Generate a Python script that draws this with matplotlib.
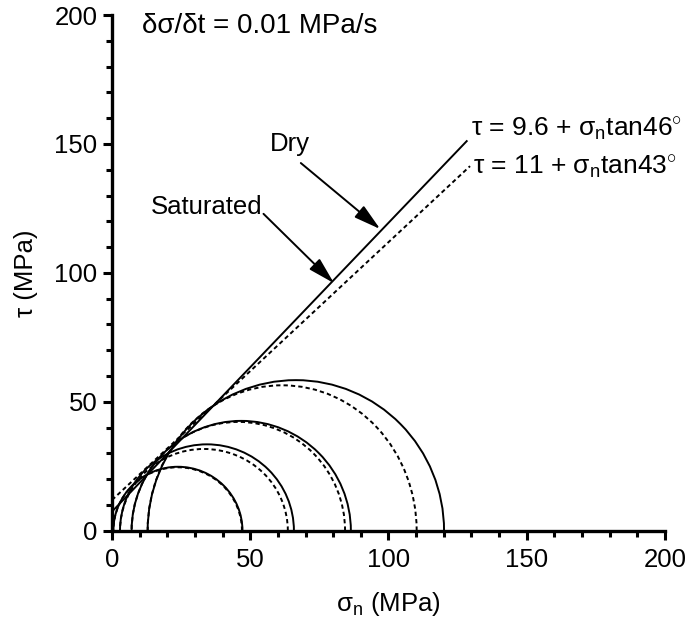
import matplotlib
matplotlib.use("Agg")
import matplotlib.pyplot as plt
from matplotlib.patches import Arc
from matplotlib.ticker import MultipleLocator

plt.rcParams['font.family'] = ['Liberation Sans', 'DejaVu Sans']
plt.rcParams['mathtext.fontset'] = 'custom'
plt.rcParams['mathtext.rm'] = 'Liberation Sans'
plt.rcParams['mathtext.it'] = 'Liberation Sans'

# Mohr circles: sigma3, sigma1 and the height of the arc top
sigma3_dry = [0.5, 2.9, 7.1, 12.9]
sigma1_dry = [47.2, 65.8, 86.4, 120.1]
peak_dry = [24.8, 33.5, 42.6, 58.4]

sigma3_sat = [0.5, 2.9, 7.1, 12.9]
sigma1_sat = [47.0, 63.6, 84.3, 110.2]
peak_sat = [24.6, 31.7, 42.2, 56.4]

# failure envelopes (end points as drawn)
env_sigma = [0, 128.3]
env_dry = [7.4, 151.1]
env_sat_sigma = [0, 129.5]
env_sat = [11.9, 141.4]

fig = plt.figure(figsize=(6.9, 6.24), dpi=100)
ax = fig.add_axes([0.1623, 0.1495, 0.8014, 0.8264])

lw = 1.4
for s3, s1, pk in zip(sigma3_dry, sigma1_dry, peak_dry):
    ax.add_patch(Arc(((s1 + s3) / 2, 0), s1 - s3, 2 * pk, theta1=0, theta2=180,
                     color='black', lw=lw))
for s3, s1, pk in zip(sigma3_sat, sigma1_sat, peak_sat):
    ax.add_patch(Arc(((s1 + s3) / 2, 0), s1 - s3, 2 * pk, theta1=0, theta2=180,
                     color='black', lw=lw, linestyle=(0, (2.2, 1.6))))

ax.plot(env_sigma, env_dry, color='black', lw=lw)
ax.plot(env_sat_sigma, env_sat, color='black', lw=lw, linestyle=(0, (2.2, 1.6)))

ax.set_xlim(0, 200)
ax.set_ylim(0, 200)
ax.spines['top'].set_visible(False)
ax.spines['right'].set_visible(False)
ax.spines['left'].set_linewidth(2.4)
ax.spines['bottom'].set_linewidth(2.4)
ax.xaxis.set_major_locator(MultipleLocator(50))
ax.yaxis.set_major_locator(MultipleLocator(50))
ax.xaxis.set_minor_locator(MultipleLocator(10))
ax.yaxis.set_minor_locator(MultipleLocator(10))
ax.tick_params(which='major', length=6.5, width=2.2, labelsize=18.5, pad=4)
ax.tick_params(axis='x', which='major', pad=6)
ax.tick_params(which='minor', length=4.5, width=2.2)

ax.set_xlabel('σ$_{\\mathregular{n}}$ (MPa)', fontsize=18.5, labelpad=13)
ax.set_ylabel('τ (MPa)', fontsize=18.5, labelpad=12)

ax.text(10.7, 195.6, 'δσ/δt = 0.01 MPa/s', fontsize=20, va='center', ha='left')
ax.text(130, 155.8, 'τ = 9.6 + σ$_{\\mathregular{n}}$tan46$^{\\circ}$', fontsize=19,
        va='center', ha='left')
ax.text(130.7, 140.8, 'τ = 11 + σ$_{\\mathregular{n}}$tan43$^{\\circ}$', fontsize=19,
        va='center', ha='left')
ax.text(57, 150, 'Dry', fontsize=18.5, va='center', ha='left')
ax.text(14.1, 125.7, 'Saturated', fontsize=18.5, va='center', ha='left')

arrow = dict(arrowstyle='-|>,head_length=1.1,head_width=0.3', color='black',
             lw=1.4, mutation_scale=15, shrinkA=0, shrinkB=0)
ax.annotate('', xy=(97, 117), xytext=(68.3, 142.6), arrowprops=arrow)
ax.annotate('', xy=(80.3, 96), xytext=(54.8, 122.9), arrowprops=arrow)

fig.savefig('out.png', dpi=100)
